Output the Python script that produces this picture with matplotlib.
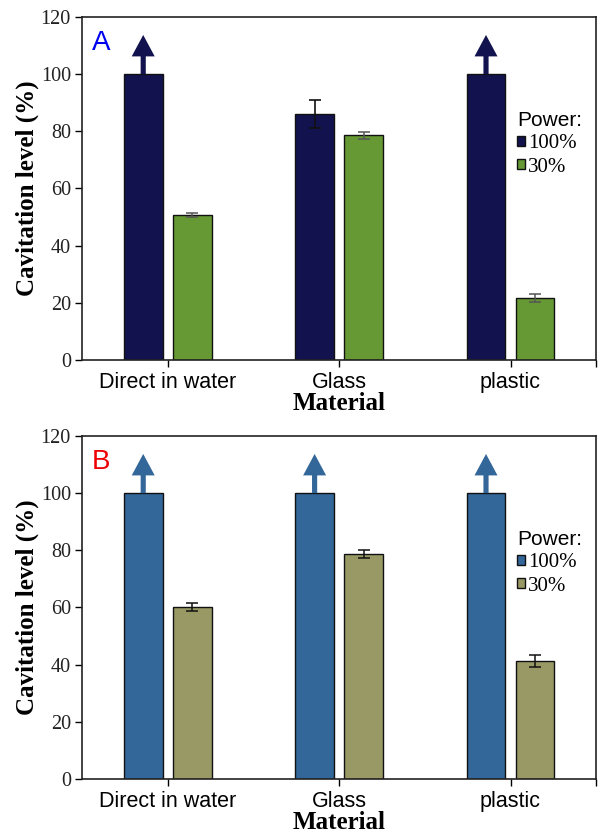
import matplotlib.pyplot as plt
import numpy as np
from matplotlib.patches import Patch

materials = ["Direct in water", "Glass", "plastic"]

# panel A
a_full = [100, 86.1, 100]
a_full_err = [0, 4.9, 0]
a_full_more = [True, False, True]      # value goes beyond scale -> arrow
a_low = [50.7, 78.6, 21.8]
a_low_err = [0.7, 1.3, 1.4]

# panel B
b_full = [100, 100, 100]
b_full_err = [0, 0, 0]
b_full_more = [True, True, True]
b_low = [60.0, 78.6, 41.3]
b_low_err = [1.4, 1.4, 2.2]

serif = "Liberation Serif"
sans = "Liberation Sans"


def panel(ax, full, full_err, more, low, low_err, c_full, c_low, ecol_full, ecol_low, letter, letter_col):
    x = np.arange(len(materials)) + 0.5
    off = 0.143
    w = 0.226
    ax.bar(x - off, full, w, color=c_full, edgecolor="#111111", linewidth=1.0, zorder=2)
    ax.bar(x + off, low, w, color=c_low, edgecolor="#111111", linewidth=1.0, zorder=2)
    for xi, v, e in zip(x - off, full, full_err):
        if e > 0:
            ax.errorbar(xi, v, yerr=e, fmt="none", ecolor=ecol_full, elinewidth=1.2, capsize=4, capthick=1.2, zorder=3)
    ax.errorbar(x + off, low, yerr=low_err, fmt="none", ecolor=ecol_low, elinewidth=1.1, capsize=4, capthick=1.1, zorder=3)

    # arrows for values off the scale
    for xi, v, m in zip(x - off, full, more):
        if m:
            ax.arrow(xi, v, 0, 13.7, width=0.03, head_width=0.134, head_length=7.5,
                     length_includes_head=True, color=c_full, linewidth=0, zorder=3)

    ax.set_xlim(0, 3)
    ax.set_ylim(0, 120)
    ax.set_yticks(np.arange(0, 121, 20))
    ax.set_xticks(x)
    ax.set_xticks([3], minor=True)
    ax.set_xticklabels(materials, fontfamily=sans, fontsize=15.5)
    for lab in ax.get_yticklabels():
        lab.set_fontfamily(serif)
        lab.set_fontsize(14.5)
        lab.set_color("#222222")
    ax.tick_params(axis="both", which="both", direction="out", length=5, width=1, pad=3)
    ax.tick_params(axis="x", which="major", pad=4)
    for s in ax.spines.values():
        s.set_linewidth(1.2)
        s.set_color("#222222")
    ax.set_ylabel("Cavitation level (%)", fontfamily=serif, fontweight="bold", fontsize=18, labelpad=1)
    ax.set_xlabel("Material", fontfamily=serif, fontweight="bold", fontsize=18, labelpad=-1)

    ax.text(0.019, 0.905, letter, transform=ax.transAxes, color=letter_col,
            fontfamily=sans, fontsize=20, va="baseline", ha="left")

    handles = [Patch(facecolor=c_full, edgecolor="#111111", linewidth=1.0),
               Patch(facecolor=c_low, edgecolor="#111111", linewidth=1.0)]
    ax.legend(handles, ["100%", "30%"], title="Power:", loc="upper left",
              bbox_to_anchor=(0.846, 0.725), frameon=False,
              prop={"family": serif, "size": 15},
              title_fontproperties={"family": sans, "size": 15},
              handlelength=0.38, handleheight=0.38, handletextpad=0.15,
              labelspacing=0.2, borderpad=0, borderaxespad=0, alignment="left")


fig = plt.figure(figsize=(6, 8.35), dpi=100)
ax1 = fig.add_axes([0.1367, 0.5689, 0.857, 0.4108])
ax2 = fig.add_axes([0.1367, 0.0671, 0.857, 0.4108])

panel(ax1, a_full, a_full_err, a_full_more, a_low, a_low_err,
      "#12124F", "#669933", "#111111", "#555555", "A", "#0000EE")
panel(ax2, b_full, b_full_err, b_full_more, b_low, b_low_err,
      "#336699", "#999966", "#111111", "#111111", "B", "#EE0000")

fig.savefig("out.png", dpi=100)
